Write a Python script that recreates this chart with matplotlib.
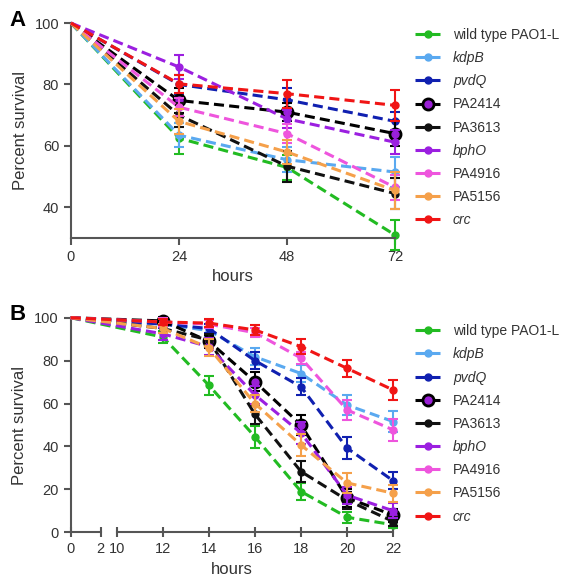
import numpy as np
import matplotlib
matplotlib.use("Agg")
import matplotlib.pyplot as plt

plt.rcParams['font.family'] = ['Liberation Sans', 'DejaVu Sans']

labels = ['wild type PAO1-L', 'kdpB', 'pvdQ', 'PA2414', 'PA3613',
          'bphO', 'PA4916', 'PA5156', 'crc']
italic = ['kdpB', 'pvdQ', 'bphO', 'crc']
colors = ['#22bb22', '#5aa9f0', '#1020b0', '#9a1fd6', '#111111',
          '#9b1fe0', '#ee55dd', '#f5a04a', '#f01515']

# panel A: long time course
hours_a = [0, 24, 48, 72]
surv_a = [
    [100, 62.5, 53, 31],     # wild type
    [100, 63.5, 55.5, 51.5], # kdpB
    [100, 80, 75, 68],       # pvdQ
    [100, 74.8, 71, 64],     # PA2414
    [100, 70, 53.4, 44.5],   # PA3613
    [100, 85.7, 68.8, 61.2], # bphO
    [100, 72.6, 64, 46.5],   # PA4916
    [100, 68, 58, 45.5],     # PA5156
    [100, 80.2, 77, 73.2],   # crc
]
err_a = [
    [0, 5, 4, 5],
    [0, 4, 4, 5],
    [0, 3, 4, 3],
    [0, 4, 3, 4],
    [0, 4, 5, 5],
    [0, 4, 3, 4],
    [0, 3, 3, 4],
    [0, 4, 4, 6],
    [0, 3, 4.5, 5],
]

# panel B: short time course
hours_b = [0, 12, 14, 16, 18, 20, 22]
surv_b = [
    [100, 91, 68.5, 44.5, 19, 7, 3.5],     # wild type
    [100, 97, 94, 81.8, 74, 59.3, 51.6],   # kdpB
    [100, 97, 95, 80, 67.8, 39.2, 24],     # pvdQ
    [100, 98.5, 89, 70.2, 50, 16, 8],      # PA2414
    [100, 95, 89.6, 55, 28.3, 15, 5],      # PA3613
    [100, 92.5, 86.5, 64, 46.3, 17.3, 10], # bphO
    [100, 98, 97, 93, 81.2, 57, 47.7],     # PA4916
    [100, 95, 86, 60, 40.7, 23, 18.2],     # PA5156
    [100, 98, 97.5, 94.3, 86.5, 76.4, 66.3],  # crc
]
err_b = [
    [0, 3, 4.5, 5, 4, 2.5, 1.5],
    [0, 2, 3, 4, 4, 4.5, 5],
    [0, 2, 2, 4, 4, 5, 4],
    [0, 2, 3, 4.5, 4.5, 4, 3],
    [0, 2, 3, 4.5, 5, 4, 2],
    [0, 3, 4, 4, 5, 4, 3.5],
    [0, 2, 2, 2, 3, 4.5, 5],
    [0, 2, 4, 4, 5, 4.5, 4],
    [0, 1.5, 2, 2.5, 3.5, 4, 4.5],
]

axis_col = '#555555'
text_col = '#333333'

fig = plt.figure(figsize=(5.77, 5.82), dpi=100)
axA = fig.add_axes([0.123, 0.591, 0.5615, 0.3694])
axB = fig.add_axes([0.1225, 0.0854, 0.559, 0.3687])

# broken x scale for panel B: 0-2 compressed, gap 2-10, then 10-22
bx_in = [0, 2, 10, 22]
bx_out = [0, 30, 46, 322.6]
def fwd(x):
    return np.interp(x, bx_in, bx_out)
def inv(y):
    return np.interp(y, bx_out, bx_in)
axB.set_xscale('function', functions=(fwd, inv))


def draw(ax, x, ys, es):
    handles = []
    for i in range(len(labels)):
        if labels[i] == 'PA2414':
            mfc, mec, ms, mew = colors[i], 'black', 8, 2
            lc = 'black'
        else:
            mfc, mec, ms, mew = colors[i], colors[i], 5, 1
            lc = colors[i]
        ax.errorbar(x[1:], ys[i][1:], yerr=es[i][1:], fmt='none',
                    ecolor=lc, elinewidth=1.5, capsize=3.5, capthick=1.5,
                    clip_on=False, zorder=2 + i * 0.1)
        ln, = ax.plot(x, ys[i], color=lc, lw=2.2, ls=(0, (3.3, 1.7)),
                      marker='o', ms=ms, mfc=mfc, mec=mec, mew=mew,
                      markevery=list(range(1, len(x))), clip_on=False,
                      zorder=2.05 + i * 0.1)
        handles.append(ln)
    return handles


hA = draw(axA, hours_a, surv_a, err_a)
hB = draw(axB, hours_b, surv_b, err_b)

# axes A
axA.set_xlim(0, 72)
axA.set_ylim(30, 100)
axA.set_xticks([0, 24, 48, 72])
axA.set_yticks([40, 60, 80, 100])

# axes B
axB.set_xlim(0, 22)
axB.set_ylim(0, 100)
axB.set_xticks([0, 2, 10, 12, 14, 16, 18, 20, 22])
axB.set_xticklabels(['0', '2', '10', '12', '14', '16', '18', '20', '22'])
axB.set_yticks([0, 20, 40, 60, 80, 100])
axB.spines['bottom'].set_visible(False)
for seg in ([0, 2], [10, 22]):
    axB.plot(seg, [0, 0], color=axis_col, lw=1.5, clip_on=False,
             transform=axB.get_xaxis_transform(), zorder=1)

for ax in (axA, axB):
    for s in ('top', 'right'):
        ax.spines[s].set_visible(False)
    for s in ('left', 'bottom'):
        ax.spines[s].set_color(axis_col)
        ax.spines[s].set_linewidth(1.5)
    ax.tick_params(direction='out', length=5, width=1.5, color=axis_col,
                   labelsize=10.5, labelcolor=text_col)
    ax.set_ylabel('Percent survival', fontsize=12, color=text_col, labelpad=5)
    ax.set_xlabel('hours', fontsize=12, color=text_col, labelpad=4)

axB.tick_params(axis='x', direction='inout', length=7)

fig.text(0.017, 0.955, 'A', fontsize=16, fontweight='bold', color='black')
fig.text(0.017, 0.45, 'B', fontsize=16, fontweight='bold', color='black')

for handles, ytop in ((hA, 0.952), (hB, 0.443)):
    leg = fig.legend(handles, labels, loc='upper left',
                     bbox_to_anchor=(0.72, ytop), frameon=False,
                     fontsize=10, handlelength=1.8, handletextpad=0.9,
                     labelspacing=0.66, borderpad=0, borderaxespad=0)
    for t in leg.get_texts():
        t.set_color(text_col)
        if t.get_text() in italic:
            t.set_fontstyle('italic')

fig.savefig('out.png', dpi=100)
